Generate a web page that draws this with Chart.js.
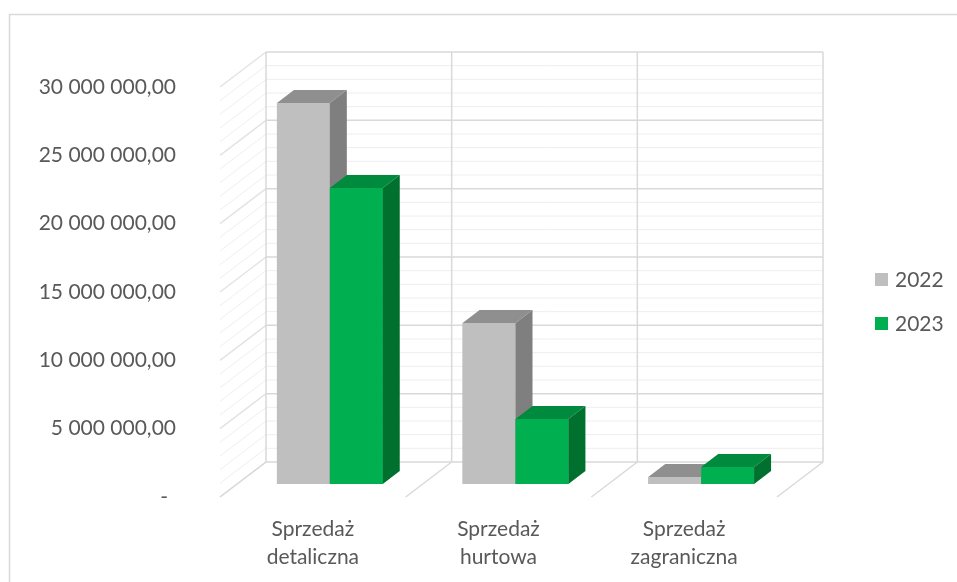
<!DOCTYPE html>
<html>
<head>
<meta charset="utf-8">
<script src="https://cdn.jsdelivr.net/npm/chart.js@4.4.0/dist/chart.umd.min.js"></script>
<style>
html, body { margin: 0; padding: 0; background: #fff; }
</style>
</head>
<body>
<canvas id="wykres" width="957" height="582"></canvas>
<script>
// --- DANE ---
const kategorie = [['Sprzedaż', 'detaliczna'], ['Sprzedaż', 'hurtowa'], ['Sprzedaż', 'zagraniczna']];
const lata = ['2022', '2023'];
const sprzedaz2022 = [27870000, 11780000, 510000];
const sprzedaz2023 = [21650000, 4750000, 1240000];
const osMin = 0;
const osMax = 30000000;
const osKrok = 5000000;
const osKrokPom = 1000000;

// --- STYL ---
const kolorPrzod = ['#BFBFBF', '#00B050'];
const kolorGora = ['#8F8F8F', '#008A3E'];
const kolorBok = ['#7F7F7F', '#00702F'];
const kolorTekst = '#595959';
const czcionka = 'Lato, "Noto Sans", sans-serif';
const sciana = { dx: 46, dy: -35 };   // przesunięcie tylnej ściany
const slupek = { dx: 17, dy: -13 };   // głębokość słupka i jego odsunięcie

function formatuj(v) {
    if (v === 0) return '- \u2009';
    return Math.round(v).toString().replace(/\B(?=(\d{3})+(?!\d))/g, ' ') + ',00';
}

function linia(ctx, x1, y1, x2, y2) {
    ctx.beginPath();
    ctx.moveTo(x1, y1);
    ctx.lineTo(x2, y2);
    ctx.stroke();
}

function wielokat(ctx, pkt, kolor) {
    ctx.fillStyle = kolor;
    ctx.beginPath();
    ctx.moveTo(pkt[0][0], pkt[0][1]);
    for (let i = 1; i < pkt.length; i++) ctx.lineTo(pkt[i][0], pkt[i][1]);
    ctx.closePath();
    ctx.fill();
}

// --- EFEKT 3D ---
const trojwymiar = {
    id: 'trojwymiar',
    beforeDraw(chart) {
        const ctx = chart.ctx;
        ctx.save();
        ctx.strokeStyle = '#D9D9D9';
        ctx.lineWidth = 1.5;
        ctx.beginPath();
        ctx.moveTo(9.5, 582);
        ctx.lineTo(9.5, 14.5);
        ctx.lineTo(957, 14.5);
        ctx.stroke();
        ctx.restore();
    },
    beforeDatasetsDraw(chart) {
        const { ctx, chartArea: a, scales: { x, y } } = chart;
        ctx.save();
        ctx.lineWidth = 1;
        // linie pomocnicze i główne: tylna ściana + lewa ściana
        for (let v = osMin; v <= osMax; v += osKrokPom) {
            const py = y.getPixelForValue(v);
            const glowna = v % osKrok === 0;
            ctx.strokeStyle = glowna ? '#D9D9D9' : '#EEEEEE';
            ctx.lineWidth = glowna ? 1.5 : 1;
            linia(ctx, a.left + sciana.dx, py + sciana.dy, a.right + sciana.dx, py + sciana.dy);
            ctx.strokeStyle = glowna ? '#E3E3E3' : '#EEEEEE';
            linia(ctx, a.left, py, a.left + sciana.dx, py + sciana.dy);
        }
        // granice kategorii: pionowo na tylnej ścianie i skośnie na podłodze
        const y0 = y.getPixelForValue(osMin);
        const yMax = y.getPixelForValue(osMax);
        ctx.lineWidth = 1.5;
        for (let i = 0; i <= kategorie.length; i++) {
            const bx = x.getPixelForValue(i - 0.5);
            ctx.strokeStyle = '#D9D9D9';
            linia(ctx, bx + sciana.dx, y0 + sciana.dy, bx + sciana.dx, yMax + sciana.dy);
            linia(ctx, bx, y0, bx + sciana.dx, y0 + sciana.dy);
        }
        ctx.restore();
        ctx.save();
        ctx.translate(slupek.dx, slupek.dy);
    },
    afterDatasetsDraw(chart) {
        const ctx = chart.ctx;
        const n = chart.data.labels.length;
        for (let i = 0; i < n; i++) {
            chart.data.datasets.forEach((ds, d) => {
                const el = chart.getDatasetMeta(d).data[i];
                el.draw(ctx);
                const l = el.x - el.width / 2, r = el.x + el.width / 2;
                const t = el.y, b = el.base;
                wielokat(ctx, [[l, t], [r, t], [r + slupek.dx, t + slupek.dy], [l + slupek.dx, t + slupek.dy]], kolorGora[d]);
                wielokat(ctx, [[r, t], [r + slupek.dx, t + slupek.dy], [r + slupek.dx, b + slupek.dy], [r, b]], kolorBok[d]);
            });
        }
        ctx.restore();
    },
    afterDraw(chart) {
        const ctx = chart.ctx;
        ctx.save();
        ctx.font = '21px ' + czcionka;
        ctx.textBaseline = 'middle';
        chart.data.datasets.forEach((ds, d) => {
            const yy = 280 + d * 44;
            ctx.fillStyle = ds.backgroundColor;
            ctx.fillRect(875, yy - 7, 13, 13);
            ctx.fillStyle = kolorTekst;
            ctx.fillText(ds.label, 895, yy);
        });
        ctx.restore();
    }
};

new Chart(document.getElementById('wykres'), {
    type: 'bar',
    data: {
        labels: kategorie,
        datasets: [
            { label: lata[0], data: sprzedaz2022, backgroundColor: kolorPrzod[0], clip: false },
            { label: lata[1], data: sprzedaz2023, backgroundColor: kolorPrzod[1], clip: false }
        ]
    },
    options: {
        responsive: false,
        animation: false,
        events: [],
        categoryPercentage: 0.57,
        barPercentage: 1.0,
        layout: { padding: { left: 0, right: 180, top: 87, bottom: 0 } },
        plugins: { legend: { display: false }, tooltip: { enabled: false } },
        scales: {
            x: {
                grid: { display: false },
                border: { display: false },
                afterFit: s => { s.height = 85; },
                ticks: {
                    color: kolorTekst,
                    font: { family: czcionka, size: 21, lineHeight: 1.3 },
                    padding: 11,
                    maxRotation: 0,
                    autoSkip: false
                }
            },
            y: {
                min: osMin,
                max: osMax,
                grid: { display: false },
                border: { display: false },
                afterFit: s => { s.width = 220; },
                ticks: {
                    stepSize: osKrok,
                    padding: 36,
                    color: kolorTekst,
                    font: { family: czcionka, size: 21 },
                    callback: v => formatuj(v)
                }
            }
        }
    },
    plugins: [trojwymiar]
});
</script>
</body>
</html>
